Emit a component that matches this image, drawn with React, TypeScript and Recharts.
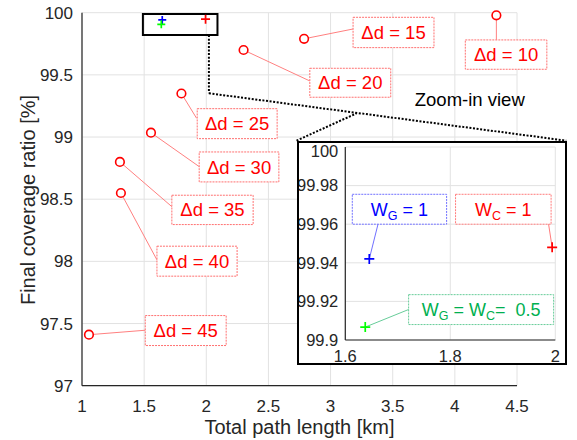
import React from 'react';
import {
  ScatterChart,
  Scatter,
  XAxis,
  YAxis,
  CartesianGrid,
  ReferenceArea,
  ReferenceLine,
} from 'recharts';

// ---- data ----
const deltaD = [10, 15, 20, 25, 30, 35, 40, 45];
const pathLength = [4.334, 2.787, 2.3, 1.8, 1.555, 1.305, 1.313, 1.056];
const coverage = [99.979, 99.79, 99.7, 99.35, 99.035, 98.8, 98.55, 97.41];

const weightPath = [1.6457, 1.994, 1.638];
const weightCoverage = [99.942, 99.948, 99.9067];

const xTicks = [1, 1.5, 2, 2.5, 3, 3.5, 4, 4.5];
const yTicks = [97, 97.5, 98, 98.5, 99, 99.5, 100];
const insetXTicks = [1.6, 1.8, 2];
const insetYTicks = [99.9, 99.92, 99.94, 99.96, 99.98, 100];

// ---- annotation layout (data units) ----
const dLabelBoxes = [
  [4.084, 4.74, 99.545, 99.781],
  [3.181, 3.832, 99.719, 99.963],
  [2.833, 3.484, 99.32, 99.553],
  [1.927, 2.57, 98.987, 99.228],
  [1.943, 2.584, 98.639, 98.88],
  [1.723, 2.377, 98.296, 98.532],
  [1.603, 2.248, 97.881, 98.122],
  [1.509, 2.16, 97.323, 97.564],
];
const dLabelAnchors = [
  [4.334, 99.781],
  [3.181, 99.869],
  [2.833, 99.451],
  [1.922, 99.151],
  [1.943, 98.762],
  [1.723, 98.44],
  [1.603, 98.012],
  [1.509, 97.446],
];
const wLabelBoxes = [
  [1.6133, 1.793, 99.96, 99.9755],
  [1.81, 1.992, 99.96, 99.9755],
  [1.7206, 1.9968, 99.908, 99.9235],
];
const wLabelAnchors = [
  [1.6623, 99.96],
  [1.9872, 99.96],
  [1.7206, 99.9158],
];
const zoomRect = [1.49, 2.09, 99.82, 99.99];
const zoomLines = [
  [[2.021, 99.82], [2.021, 99.352]],
  [[2.021, 99.352], [4.896, 98.971]],
  [[2.726, 98.971], [3.208, 99.19]],
];
const zoomTextBox = [3.9, 4.34, 99.22, 99.38];

const mainPoints = deltaD.map((d, i) => ({ x: pathLength[i], y: coverage[i], d }));
const weightSeries = weightPath.map((x, i) => [{ x, y: weightCoverage[i] }]);
const weightColors = ['#0000ff', '#ff0000', '#00ff00'];
const weightTextColors = ['#0000ff', '#ff0000', '#00b050'];
const weightBorderColors = ['#6f6fff', '#ff7a7a', '#66cc99'];

const FONT = '"Liberation Sans", Arial, Helvetica, sans-serif';
const TICK = '#262626';
const GRID = '#e2e2e2';

const Circle = (p: any) => (
  <circle cx={p.cx} cy={p.cy} r={4.3} fill="#fff" stroke="#ff0000" strokeWidth={1.6} />
);

const makePlus = (color: string, s: number) => (p: any) => (
  <path
    d={`M${p.cx - s},${p.cy}H${p.cx + s}M${p.cx},${p.cy - s}V${p.cy + s}`}
    stroke={color}
    strokeWidth={1.7}
    fill="none"
  />
);

const WeightText = ({ viewBox, idx }: any) => {
  if (!viewBox) return null;
  const cx = viewBox.x + viewBox.width / 2;
  const cy = viewBox.y + viewBox.height / 2;
  const color = weightTextColors[idx];
  const sub = 12.5;
  let content;
  if (idx === 0) {
    content = (
      <>
        W<tspan fontSize={sub} dy={4}>G</tspan>
        <tspan dy={-4}> = 1</tspan>
      </>
    );
  } else if (idx === 1) {
    content = (
      <>
        W<tspan fontSize={sub} dy={4}>C</tspan>
        <tspan dy={-4}> = 1</tspan>
      </>
    );
  } else {
    content = (
      <>
        W<tspan fontSize={sub} dy={4}>G</tspan>
        <tspan dy={-4}> = W</tspan>
        <tspan fontSize={sub} dy={4}>C</tspan>
        <tspan dy={-4}>={'\u00a0\u00a0'}0.5</tspan>
      </>
    );
  }
  return (
    <text x={cx} y={cy} dy="0.35em" textAnchor="middle" fontSize={18} fill={color} fontFamily={FONT}>
      {content}
    </text>
  );
};

export default function App() {
  return (
    <div
      style={{
        position: 'absolute',
        left: 0,
        top: 0,
        width: 577,
        height: 440,
        background: '#fff',
        fontFamily: FONT,
      }}
    >
      <ScatterChart width={577} height={440} margin={{ top: 12.7, right: 60, bottom: 0, left: 0 }}>
        <CartesianGrid stroke={GRID} strokeWidth={1} />
        <XAxis
          type="number"
          dataKey="x"
          domain={[1, 4.5]}
          ticks={xTicks}
          height={54.3}
          tickLine={false}
          tickSize={6}
          tickMargin={8}
          tick={{ fill: TICK, fontSize: 17 }}
          axisLine={{ stroke: '#262626', strokeWidth: 1.2 }}
          label={(props: any) => (
            <text x={299.5} y={434} textAnchor="middle" fontSize={20} fill={TICK} fontFamily={FONT}>
              Total path length [km]
            </text>
          )}
        />
        <YAxis
          type="number"
          dataKey="y"
          domain={[97, 100]}
          ticks={yTicks}
          width={82}
          tickLine={false}
          tickSize={6}
          tickMargin={3}
          tick={{ fill: TICK, fontSize: 17 }}
          axisLine={{ stroke: '#262626', strokeWidth: 1.2 }}
          label={(props: any) => (
            <text
              transform="translate(35,200) rotate(-90)"
              textAnchor="middle"
              fontSize={20}
              fill={TICK}
              fontFamily={FONT}
            >
              Final coverage ratio [%]
            </text>
          )}
        />

        {zoomLines.map((seg, i) => (
          <ReferenceLine
            key={`zl${i}`}
            segment={[
              { x: seg[0][0], y: seg[0][1] },
              { x: seg[1][0], y: seg[1][1] },
            ]}
            stroke="#000"
            strokeWidth={2}
            strokeDasharray="2 1.6"
            ifOverflow="visible"
          />
        ))}

        {mainPoints.map((p, i) => (
          <ReferenceLine
            key={`dc${i}`}
            segment={[
              { x: p.x, y: p.y },
              { x: dLabelAnchors[i][0], y: dLabelAnchors[i][1] },
            ]}
            stroke="#ff8080"
            strokeWidth={1}
            ifOverflow="visible"
          />
        ))}

        {mainPoints.map((p, i) => (
          <ReferenceArea
            key={`db${i}`}
            x1={dLabelBoxes[i][0]}
            x2={dLabelBoxes[i][1]}
            y1={dLabelBoxes[i][2]}
            y2={dLabelBoxes[i][3]}
            fill="#fff"
            fillOpacity={1}
            stroke="#ff7070"
            strokeWidth={1}
            strokeDasharray="2 1"
            ifOverflow="visible"
            label={{
              value: `\u0394d = ${p.d}`,
              position: 'center',
              fill: '#ff0000',
              fontSize: 18.5,
            }}
          />
        ))}

        <ReferenceArea
          x1={zoomTextBox[0]}
          x2={zoomTextBox[1]}
          y1={zoomTextBox[2]}
          y2={zoomTextBox[3]}
          fill="none"
          fillOpacity={0}
          stroke="none"
          ifOverflow="visible"
          label={{ value: 'Zoom-in view', position: 'center', fill: '#000', fontSize: 18.5 }}
        />

        <ReferenceArea
          x1={zoomRect[0]}
          x2={zoomRect[1]}
          y1={zoomRect[2]}
          y2={zoomRect[3]}
          fill="none"
          fillOpacity={0}
          stroke="#000"
          strokeWidth={2}
          ifOverflow="visible"
        />

        <Scatter data={mainPoints} shape={Circle} isAnimationActive={false} />
        {weightSeries.map((d, i) => (
          <Scatter
            key={`wm${i}`}
            data={d}
            shape={makePlus(weightColors[i], i === 1 ? 4.5 : 4)}
            isAnimationActive={false}
          />
        ))}
      </ScatterChart>

      <div
        style={{
          position: 'absolute',
          left: 296.7,
          top: 140.7,
          width: 270,
          height: 224.3,
          background: '#fff',
        }}
      >
        <ScatterChart width={270} height={224.3} margin={{ top: 6, right: 11.7, bottom: 0, left: 0 }}>
          <CartesianGrid stroke={GRID} strokeWidth={1} />
          <XAxis
            type="number"
            dataKey="x"
            domain={[1.6, 2]}
            ticks={insetXTicks}
            height={25.3}
            tickLine={false}
            tickSize={6}
            tickMargin={4}
            tick={{ fill: TICK, fontSize: 16.5 }}
            axisLine={{ stroke: '#262626', strokeWidth: 1.2 }}
          />
          <YAxis
            type="number"
            dataKey="y"
            domain={[99.9, 100]}
            ticks={insetYTicks}
            width={48.3}
            tickLine={false}
            tickSize={6}
            tickMargin={1}
            tick={{ fill: TICK, fontSize: 16.5 }}
            axisLine={{ stroke: '#262626', strokeWidth: 1.2 }}
          />
          {weightSeries.map((d, i) => (
            <ReferenceLine
              key={`wc${i}`}
              segment={[
                { x: d[0].x, y: d[0].y },
                { x: wLabelAnchors[i][0], y: wLabelAnchors[i][1] },
              ]}
              stroke={weightBorderColors[i]}
              strokeWidth={1}
              ifOverflow="visible"
            />
          ))}
          {weightSeries.map((d, i) => (
            <ReferenceArea
              key={`wb${i}`}
              x1={wLabelBoxes[i][0]}
              x2={wLabelBoxes[i][1]}
              y1={wLabelBoxes[i][2]}
              y2={wLabelBoxes[i][3]}
              fill="#fff"
              fillOpacity={1}
              stroke={weightBorderColors[i]}
              strokeWidth={1}
              strokeDasharray="2 1"
              ifOverflow="visible"
              label={(props: any) => <WeightText viewBox={props.viewBox} idx={i} />}
            />
          ))}
          {weightSeries.map((d, i) => (
            <Scatter
              key={`wi${i}`}
              data={d}
              shape={makePlus(weightColors[i], 5)}
              isAnimationActive={false}
            />
          ))}
        </ScatterChart>
        <div
          style={{
            position: 'absolute',
            left: 0,
            top: 0,
            width: 270,
            height: 224.3,
            boxSizing: 'border-box',
            border: '2px solid #000',
            pointerEvents: 'none',
          }}
        />
      </div>
    </div>
  );
}
